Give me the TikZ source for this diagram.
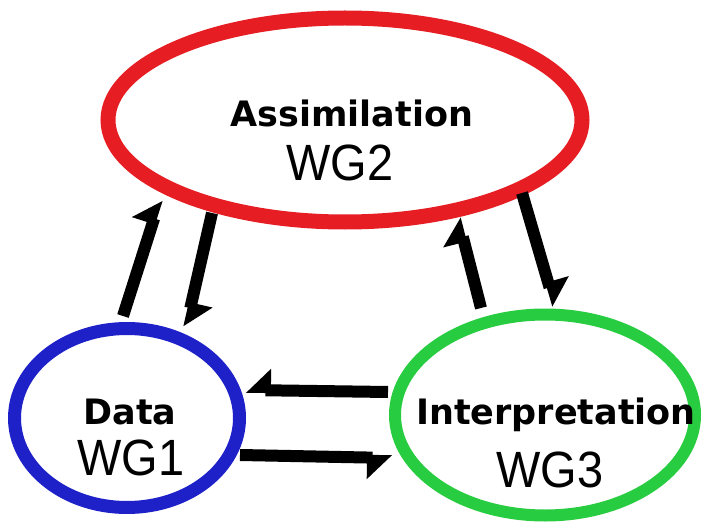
\documentclass[tikz,border=0pt]{standalone}
\usepackage{fontspec}
\newfontfamily\labfont{DejaVu Sans}
\newfontfamily\wgfont[FakeStretch=0.92]{Liberation Sans}
\usetikzlibrary{shapes.geometric,arrows.meta}
\definecolor{ringred}{RGB}{230,30,36}
\definecolor{ringblue}{RGB}{30,32,200}
\definecolor{ringgreen}{RGB}{40,204,64}
\begin{document}
\begin{tikzpicture}[x=1pt,y=-1pt,
  ring/.style={ellipse, draw, inner sep=0pt},
  title/.style={anchor=base, font=\labfont\bfseries\fontsize{35}{40}\selectfont, inner sep=0pt, text depth=0pt},
  wg/.style={anchor=base, font=\wgfont\fontsize{51}{60}\selectfont, inner sep=0pt, text height=36pt, text depth=0pt},
  flow/.style={line width=12pt, -{Triangle[harpoon, length=22pt, width=42pt]}},
  flowswap/.style={line width=12pt, -{Triangle[harpoon, swap, length=22pt, width=42pt]}}
]
\fill[white] (0,0) rectangle (710,524);
\useasboundingbox (0,0) rectangle (710,524);

\node[ring, draw=ringred, line width=15pt, minimum width=474pt, minimum height=204pt] (assim) at (345,120) {};
\node[ring, draw=ringblue, line width=13pt, minimum width=225pt, minimum height=179pt] (data) at (127,418) {};
\node[ring, draw=ringgreen, line width=12pt, minimum width=300pt, minimum height=201pt] (interp) at (545,415) {};

\node[title] (tA) at (352,127) {Assimilation};
\node[wg] (wA) at (340,181) {WG2};
\node[title] (tD) at (130,424) {Data};
\node[wg] (wD) at (131,475) {WG1};
\node[title] (tI) at (556,424) {Interpretation};
\node[wg] (wI) at (550,487) {WG3};

\coordinate (d1) at (123,316);
\coordinate (a1) at (160,200);
\coordinate (a2) at (212,213);
\coordinate (d2) at (186,327);
\coordinate (i3) at (481,308);
\coordinate (a3) at (458,218);
\coordinate (a4) at (522,193);
\coordinate (i4) at (555,306);
\coordinate (i5) at (388,392);
\coordinate (d5) at (246,390);
\coordinate (d6) at (240,455);
\coordinate (i6) at (392,458);

\draw[flow] (d1) -- (a1);
\draw[flow] (a2) -- (d2);
\draw[flow] (i3) -- (a3);
\draw[flow] (a4) -- (i4);
\draw[flowswap] (i5) -- (d5);
\draw[flowswap] (d6) -- (i6);
\end{tikzpicture}
\end{document}
